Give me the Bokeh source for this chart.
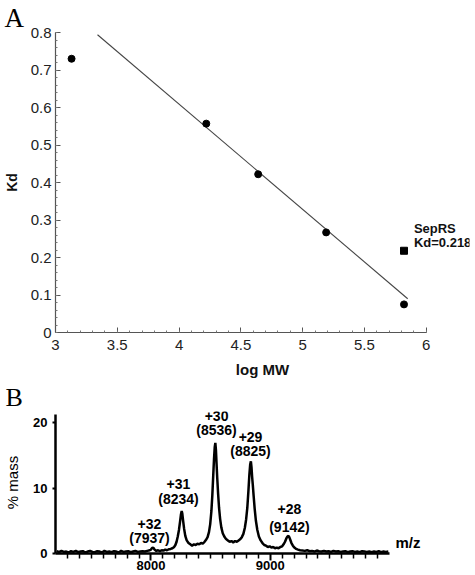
from bokeh.plotting import figure
from bokeh.models import FixedTicker, Title
from bokeh.core.properties import value
from bokeh.layouts import column
from bokeh.embed import file_html
from bokeh.resources import INLINE

# ---------------- Panel A data ----------------
std_logmw = [3.13, 4.22, 4.64, 5.19, 5.82]
std_kd = [0.73, 0.557, 0.422, 0.267, 0.075]
seprs_logmw = [5.82]
seprs_kd = [0.218]
fit_x = [3.34, 5.85]
fit_y = [0.794, 0.090]
a_xticks = [3, 3.5, 4, 4.5, 5, 5.5, 6]
a_xlabels = ["3", "3.5", "4", "4.5", "5", "5.5", "6"]
a_yticks = [0, 0.1, 0.2, 0.3, 0.4, 0.5, 0.6, 0.7, 0.8]
a_ylabels = ["0", "0.1", "0.2", "0.3", "0.4", "0.5", "0.6", "0.7", "0.8"]
seprs_text = ["SepRS", "Kd=0.218"]
seprs_text_x = [5.90, 5.90]
seprs_text_y = [0.277, 0.240]

# ---------------- Panel B data ----------------
mz_low = [7210, 7230, 7250, 7270, 7290, 7310, 7330, 7350, 7370, 7390,
          7410, 7430, 7450, 7470, 7490, 7510, 7530, 7550, 7570, 7590,
          7610, 7630, 7650, 7670, 7690, 7710, 7730, 7750, 7770, 7790,
          7810, 7830, 7850, 7870, 7890, 7910, 7930, 7950, 7970, 7990]
pct_low = [0.35, 0.2, 0.4, 0.25, 0.3, 0.15, 0.35, 0.25, 0.4, 0.2,
           0.3, 0.35, 0.15, 0.3, 0.4, 0.25, 0.2, 0.35, 0.3, 0.15,
           0.4, 0.25, 0.3, 0.2, 0.35, 0.3, 0.15, 0.4, 0.25, 0.3,
           0.35, 0.2, 0.3, 0.4, 0.25, 0.3, 0.35, 0.3, 0.4, 0.5]
mz_mid = [8000, 8010, 8020, 8030, 8045, 8060, 8075, 8090, 8105, 8120,
          8135, 8150, 8165, 8180, 8195, 8205, 8215, 8225, 8235, 8245,
          8252, 8258, 8263, 8270, 8278, 8288, 8300, 8315, 8330, 8345,
          8360, 8375, 8390, 8405, 8420, 8435, 8450, 8462, 8475, 8487,
          8497, 8507, 8515, 8522, 8529, 8535, 8540, 8545, 8550, 8556,
          8563, 8571, 8580, 8590, 8602, 8615, 8630, 8645, 8660, 8675,
          8690, 8705, 8720, 8735, 8750, 8762, 8775, 8787, 8798, 8808,
          8817, 8825, 8832, 8838, 8843, 8848, 8854, 8861, 8870, 8880,
          8892, 8905, 8920, 8935, 8950, 8965, 8980, 8995, 9010, 9025,
          9040, 9055, 9070, 9085, 9100, 9112, 9124, 9135, 9145, 9153,
          9160, 9168, 9178, 9190, 9203, 9218, 9233, 9250]
pct_mid = [0.6, 0.85, 0.9, 0.6, 0.4, 0.5, 0.35, 0.5, 0.45, 0.6,
           0.5, 0.65, 0.7, 0.8, 1.0, 1.3, 1.8, 2.6, 3.6, 5.0,
           6.0, 6.5, 6.1, 5.0, 3.8, 2.7, 2.0, 1.6, 1.4, 1.2,
           1.4, 1.3, 1.5, 1.4, 1.6, 1.5, 1.8, 2.1, 2.5, 3.3,
           4.5, 6.5, 9.0, 11.8, 14.5, 16.3, 16.9, 15.8, 13.8, 11.5,
           9.2, 7.0, 5.3, 4.0, 3.1, 2.6, 2.2, 2.0, 1.8, 1.9,
           1.7, 1.9, 1.8, 2.0, 2.2, 2.5, 3.0, 3.9, 5.2, 7.0,
           9.5, 12.0, 13.6, 14.1, 13.2, 11.8, 10.5, 8.8, 6.8, 5.0,
           3.6, 2.6, 2.0, 1.6, 1.3, 1.2, 1.0, 1.1, 0.9, 1.0,
           0.8, 0.9, 0.8, 1.0, 1.1, 1.4, 1.8, 2.3, 2.6, 2.7,
           2.5, 2.1, 1.6, 1.2, 0.9, 0.7, 0.6, 0.5]
mz_high = [9270, 9290, 9310, 9330, 9350, 9370, 9390, 9410, 9430, 9450,
           9470, 9490, 9510, 9530, 9550, 9570, 9590, 9610, 9630, 9650,
           9670, 9690, 9710, 9730, 9750, 9770, 9790, 9810, 9830, 9850,
           9870, 9890, 9910, 9930, 9950, 9970, 9990]
pct_high = [0.45, 0.4, 0.5, 0.35, 0.4, 0.3, 0.45, 0.35, 0.3, 0.4,
            0.3, 0.35, 0.25, 0.4, 0.3, 0.35, 0.25, 0.3, 0.35, 0.2,
            0.3, 0.35, 0.25, 0.3, 0.2, 0.35, 0.3, 0.25, 0.3, 0.2,
            0.3, 0.25, 0.35, 0.2, 0.3, 0.25, 0.3]

peak_charge = ["+32", "+31", "+30", "+29", "+28"]
peak_mass = ["(7937)", "(8234)", "(8536)", "(8825)", "(9142)"]
label_mz = [7988, 8231, 8550, 8835, 9161]
charge_y = [4.5, 10.6, 21.0, 17.8, 6.8]
mass_y = [2.4, 8.3, 18.9, 15.6, 4.05]
b_xticks = [8000, 9000]
b_xminor = [7300, 7400, 7500, 7600, 7700, 7800, 7900, 8100, 8200, 8300,
            8400, 8500, 8600, 8700, 8800, 8900, 9100, 9200, 9300, 9400,
            9500, 9600, 9700, 9800, 9900]
b_yticks = [0, 10, 20]
unit_text = ["m/z"]
unit_x = [10050]
unit_y = [0.35]

SANS = "Liberation Sans"
SERIF = "Liberation Serif"

# ---------------- Panel A ----------------
pa = figure(frame_width=414, frame_height=300, x_range=(3, 6.35), y_range=(0, 0.8),
            output_backend="svg", toolbar_location=None,
            min_border_left=51, min_border_right=2, min_border_top=0, min_border_bottom=48)
pa.outline_line_color = None
pa.grid.visible = False
pa.title = Title(text="A", align="left", offset=-51, standoff=0, text_font=SERIF,
                 text_font_size="27px", text_font_style="normal", text_color="black")

pa.xaxis.ticker = FixedTicker(ticks=a_xticks, minor_ticks=[3 + i * 0.1 for i in range(31)])
pa.xaxis.major_label_overrides = dict(zip(a_xticks, a_xlabels))
pa.xaxis.bounds = (3, 6)
pa.yaxis.ticker = FixedTicker(ticks=a_yticks, minor_ticks=[i * 0.02 for i in range(41)])
pa.yaxis.major_label_overrides = dict(zip(a_yticks, a_ylabels))
for ax in (pa.xaxis[0], pa.yaxis[0]):
    ax.axis_line_color = "#555555"
    ax.axis_line_width = 1.2
    ax.major_tick_in = 5
    ax.major_tick_out = 0
    ax.minor_tick_in = 2
    ax.minor_tick_out = 0
    ax.major_tick_line_color = "#555555"
    ax.minor_tick_line_color = "#777777"
    ax.major_label_text_font = SANS
    ax.major_label_text_font_size = "15px"
    ax.major_label_text_color = "#222222"
    ax.axis_label_text_font = SANS
    ax.axis_label_text_font_style = "bold"
    ax.axis_label_text_color = "#111111"
pa.xaxis.major_label_standoff = 7
pa.yaxis.major_label_standoff = 4
pa.xaxis.axis_label = "log MW"
pa.xaxis.axis_label_text_font_size = "15px"
pa.xaxis.axis_label_standoff = 8
pa.yaxis.axis_label = "Kd"
pa.yaxis.axis_label_text_font_size = "14px"
pa.yaxis.axis_label_standoff = 8

pa.line(fit_x, fit_y, line_color="#444444", line_width=1.1)
pa.scatter(std_logmw, std_kd, size=7, color="black")
pa.scatter(seprs_logmw, seprs_kd, marker="square", size=7, color="black")
pa.text(x=seprs_text_x, y=seprs_text_y, text=seprs_text, text_font=value(SANS),
        text_font_style="bold", text_font_size="13px", text_baseline="middle",
        text_align="left", text_color="#111111")

# ---------------- Panel B ----------------
pb = figure(frame_width=415, frame_height=142, x_range=(7200, 10679), y_range=(0, 21.71),
            output_backend="svg", toolbar_location=None,
            min_border_left=50, min_border_right=2, min_border_top=0, min_border_bottom=23)
pb.outline_line_color = None
pb.grid.visible = False
pb.title = Title(text="B", align="left", offset=-50, standoff=0, text_font=SERIF,
                 text_font_size="26px", text_font_style="normal", text_color="black")

pb.xaxis.ticker = FixedTicker(ticks=b_xticks, minor_ticks=b_xminor)
pb.xaxis.bounds = (7200, 10000)
pb.yaxis.ticker = FixedTicker(ticks=b_yticks)
pb.yaxis.bounds = (0, 21.3)
for ax in (pb.xaxis[0], pb.yaxis[0]):
    ax.axis_line_color = "black"
    ax.axis_line_width = 2.5
    ax.major_tick_line_color = "black"
    ax.major_tick_line_width = 2
    ax.minor_tick_line_color = "black"
    ax.minor_tick_line_width = 1.5
    ax.major_label_text_font = SANS
    ax.major_label_text_font_style = "bold"
    ax.major_label_text_font_size = "13px"
    ax.major_label_text_color = "black"
pb.xaxis.major_tick_in = 0
pb.xaxis.major_tick_out = 7
pb.xaxis.minor_tick_in = 0
pb.xaxis.minor_tick_out = 5
pb.xaxis.major_label_standoff = 0
pb.xaxis.major_label_overrides = {8000: "8000", 9000: "9000"}
pb.yaxis.major_tick_in = 0
pb.yaxis.major_tick_out = 3
pb.yaxis.minor_tick_in = 0
pb.yaxis.minor_tick_out = 0
pb.yaxis.major_label_standoff = 5
pb.yaxis.axis_label = "% mass"
pb.yaxis.axis_label_text_font = SANS
pb.yaxis.axis_label_text_font_style = "normal"
pb.yaxis.axis_label_text_font_size = "15px"
pb.yaxis.axis_label_standoff = 9
pb.yaxis.axis_label_text_color = "black"

spec_mz = mz_low + mz_mid + mz_high
spec_pct = pct_low + pct_mid + pct_high
pb.line(spec_mz, spec_pct, line_color="black", line_width=2.5)

pb.text(x=label_mz, y=charge_y, text=peak_charge, text_font=value(SANS),
        text_font_style="bold", text_font_size="14px", text_align="center",
        text_baseline="middle", text_color="black")
pb.text(x=label_mz, y=mass_y, text=peak_mass, text_font=value(SANS),
        text_font_style="bold", text_font_size="14px", text_align="center",
        text_baseline="middle", text_color="black")
pb.text(x=unit_x, y=unit_y, text=unit_text, text_font=value(SANS),
        text_font_style="bold", text_font_size="15px", text_align="left",
        text_baseline="bottom", text_color="black")

layout = column(pa, pb)
open("out.html", "w").write(file_html(layout, INLINE))
